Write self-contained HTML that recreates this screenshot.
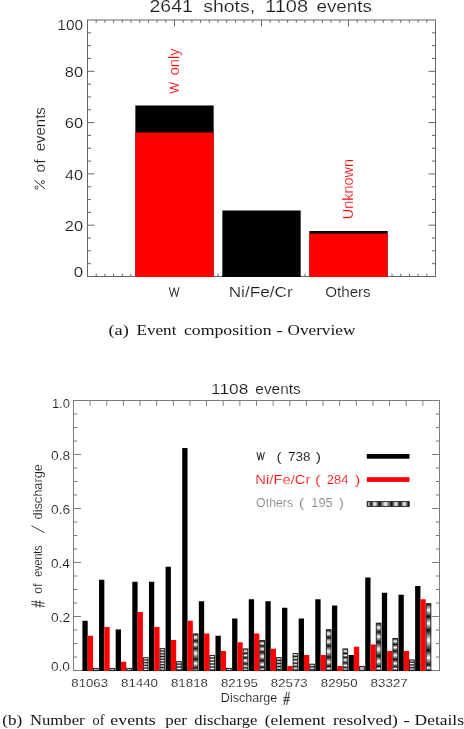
<!DOCTYPE html>
<html><head><meta charset="utf-8"><title>Event composition</title>
<style>
html,body{margin:0;padding:0;background:#fff;}
body{width:464px;height:729px;overflow:hidden;font-family:"Liberation Sans",sans-serif;}
svg{display:block;will-change:transform;}
</style></head><body>
<svg width="464" height="729" viewBox="0 0 464 729">
<defs>
<linearGradient id="g3" x1="0" y1="657.25" x2="0" y2="659.95" gradientUnits="userSpaceOnUse" spreadMethod="repeat"><stop offset="0" stop-color="#161616"/><stop offset="0.5" stop-color="#f6f6f6"/><stop offset="1" stop-color="#161616"/></linearGradient>
<linearGradient id="g4" x1="0" y1="648.25" x2="0" y2="651.00" gradientUnits="userSpaceOnUse" spreadMethod="repeat"><stop offset="0" stop-color="#161616"/><stop offset="0.5" stop-color="#f6f6f6"/><stop offset="1" stop-color="#161616"/></linearGradient>
<linearGradient id="g5" x1="0" y1="661.25" x2="0" y2="664.15" gradientUnits="userSpaceOnUse" spreadMethod="repeat"><stop offset="0" stop-color="#161616"/><stop offset="0.5" stop-color="#f6f6f6"/><stop offset="1" stop-color="#161616"/></linearGradient>
<linearGradient id="g6" x1="0" y1="633.50" x2="0" y2="671.00" gradientUnits="userSpaceOnUse"><stop offset="0.0027" stop-color="#0e0e0e"/><stop offset="0.1040" stop-color="#fbfbfb"/><stop offset="0.1947" stop-color="#0e0e0e"/><stop offset="0.2960" stop-color="#fbfbfb"/><stop offset="0.3947" stop-color="#0e0e0e"/><stop offset="0.5227" stop-color="#fbfbfb"/><stop offset="0.6880" stop-color="#0e0e0e"/><stop offset="0.7973" stop-color="#fbfbfb"/><stop offset="0.9253" stop-color="#0e0e0e"/><stop offset="0.9893" stop-color="#fbfbfb"/></linearGradient>
<linearGradient id="g7" x1="0" y1="655.00" x2="0" y2="658.00" gradientUnits="userSpaceOnUse" spreadMethod="repeat"><stop offset="0" stop-color="#161616"/><stop offset="0.5" stop-color="#f6f6f6"/><stop offset="1" stop-color="#161616"/></linearGradient>
<linearGradient id="g9" x1="0" y1="648.50" x2="0" y2="671.00" gradientUnits="userSpaceOnUse"><stop offset="0.0000" stop-color="#0e0e0e"/><stop offset="0.1156" stop-color="#fbfbfb"/><stop offset="0.2133" stop-color="#0e0e0e"/><stop offset="0.3067" stop-color="#fbfbfb"/><stop offset="0.4044" stop-color="#0e0e0e"/><stop offset="0.5378" stop-color="#fbfbfb"/><stop offset="0.6889" stop-color="#0e0e0e"/><stop offset="0.7867" stop-color="#fbfbfb"/><stop offset="0.8667" stop-color="#0e0e0e"/><stop offset="0.9200" stop-color="#fbfbfb"/><stop offset="0.9689" stop-color="#0e0e0e"/></linearGradient>
<linearGradient id="g10" x1="0" y1="640.00" x2="0" y2="671.00" gradientUnits="userSpaceOnUse"><stop offset="0.0258" stop-color="#0e0e0e"/><stop offset="0.1097" stop-color="#fbfbfb"/><stop offset="0.1935" stop-color="#0e0e0e"/><stop offset="0.2903" stop-color="#fbfbfb"/><stop offset="0.3871" stop-color="#0e0e0e"/><stop offset="0.5258" stop-color="#fbfbfb"/><stop offset="0.6645" stop-color="#0e0e0e"/><stop offset="0.7903" stop-color="#fbfbfb"/><stop offset="0.8871" stop-color="#0e0e0e"/><stop offset="0.9419" stop-color="#fbfbfb"/><stop offset="0.9839" stop-color="#0e0e0e"/></linearGradient>
<linearGradient id="g11" x1="0" y1="657.25" x2="0" y2="660.35" gradientUnits="userSpaceOnUse" spreadMethod="repeat"><stop offset="0" stop-color="#161616"/><stop offset="0.5" stop-color="#f6f6f6"/><stop offset="1" stop-color="#161616"/></linearGradient>
<linearGradient id="g12" x1="0" y1="653.00" x2="0" y2="656.40" gradientUnits="userSpaceOnUse" spreadMethod="repeat"><stop offset="0" stop-color="#161616"/><stop offset="0.5" stop-color="#f6f6f6"/><stop offset="1" stop-color="#161616"/></linearGradient>
<linearGradient id="g13" x1="0" y1="663.75" x2="0" y2="666.75" gradientUnits="userSpaceOnUse" spreadMethod="repeat"><stop offset="0" stop-color="#161616"/><stop offset="0.5" stop-color="#f6f6f6"/><stop offset="1" stop-color="#161616"/></linearGradient>
<linearGradient id="g14" x1="0" y1="629.25" x2="0" y2="671.00" gradientUnits="userSpaceOnUse"><stop offset="0.0132" stop-color="#0e0e0e"/><stop offset="0.1042" stop-color="#fbfbfb"/><stop offset="0.1976" stop-color="#0e0e0e"/><stop offset="0.2982" stop-color="#fbfbfb"/><stop offset="0.3940" stop-color="#0e0e0e"/><stop offset="0.5281" stop-color="#fbfbfb"/><stop offset="0.6719" stop-color="#0e0e0e"/><stop offset="0.7868" stop-color="#fbfbfb"/><stop offset="0.8898" stop-color="#0e0e0e"/><stop offset="0.9425" stop-color="#fbfbfb"/><stop offset="0.9832" stop-color="#0e0e0e"/></linearGradient>
<linearGradient id="g15" x1="0" y1="648.50" x2="0" y2="671.00" gradientUnits="userSpaceOnUse"><stop offset="0.0089" stop-color="#0e0e0e"/><stop offset="0.1156" stop-color="#fbfbfb"/><stop offset="0.2222" stop-color="#0e0e0e"/><stop offset="0.3067" stop-color="#fbfbfb"/><stop offset="0.3911" stop-color="#0e0e0e"/><stop offset="0.5067" stop-color="#fbfbfb"/><stop offset="0.6400" stop-color="#0e0e0e"/><stop offset="0.7556" stop-color="#fbfbfb"/><stop offset="0.8533" stop-color="#0e0e0e"/><stop offset="0.9111" stop-color="#fbfbfb"/><stop offset="0.9644" stop-color="#0e0e0e"/></linearGradient>
<linearGradient id="g17" x1="0" y1="622.75" x2="0" y2="671.00" gradientUnits="userSpaceOnUse"><stop offset="0.0114" stop-color="#0e0e0e"/><stop offset="0.1005" stop-color="#fbfbfb"/><stop offset="0.1917" stop-color="#0e0e0e"/><stop offset="0.2891" stop-color="#fbfbfb"/><stop offset="0.3969" stop-color="#0e0e0e"/><stop offset="0.5482" stop-color="#fbfbfb"/><stop offset="0.6912" stop-color="#0e0e0e"/><stop offset="0.7990" stop-color="#fbfbfb"/><stop offset="0.9047" stop-color="#0e0e0e"/><stop offset="0.9503" stop-color="#fbfbfb"/><stop offset="0.9876" stop-color="#0e0e0e"/></linearGradient>
<linearGradient id="g18" x1="0" y1="638.00" x2="0" y2="671.00" gradientUnits="userSpaceOnUse"><stop offset="0.0121" stop-color="#0e0e0e"/><stop offset="0.1030" stop-color="#fbfbfb"/><stop offset="0.1939" stop-color="#0e0e0e"/><stop offset="0.2879" stop-color="#fbfbfb"/><stop offset="0.3909" stop-color="#0e0e0e"/><stop offset="0.5212" stop-color="#fbfbfb"/><stop offset="0.6515" stop-color="#0e0e0e"/><stop offset="0.7697" stop-color="#fbfbfb"/><stop offset="0.8758" stop-color="#0e0e0e"/><stop offset="0.9273" stop-color="#fbfbfb"/><stop offset="0.9818" stop-color="#0e0e0e"/></linearGradient>
<linearGradient id="g19" x1="0" y1="659.50" x2="0" y2="662.20" gradientUnits="userSpaceOnUse" spreadMethod="repeat"><stop offset="0" stop-color="#161616"/><stop offset="0.5" stop-color="#f6f6f6"/><stop offset="1" stop-color="#161616"/></linearGradient>
<linearGradient id="g20" x1="0" y1="603.25" x2="0" y2="671.00" gradientUnits="userSpaceOnUse"><stop offset="0.0052" stop-color="#0e0e0e"/><stop offset="0.0996" stop-color="#fbfbfb"/><stop offset="0.1956" stop-color="#0e0e0e"/><stop offset="0.2959" stop-color="#fbfbfb"/><stop offset="0.3978" stop-color="#0e0e0e"/><stop offset="0.5469" stop-color="#fbfbfb"/><stop offset="0.6974" stop-color="#0e0e0e"/><stop offset="0.8022" stop-color="#fbfbfb"/><stop offset="0.9085" stop-color="#0e0e0e"/><stop offset="0.9557" stop-color="#fbfbfb"/><stop offset="0.9911" stop-color="#0e0e0e"/></linearGradient>
<linearGradient id="lg" x1="366.8" y1="0" x2="409.5" y2="0" gradientUnits="userSpaceOnUse"><stop offset="0.0023" stop-color="#0e0e0e"/><stop offset="0.0492" stop-color="#cfcfcf"/><stop offset="0.0984" stop-color="#0e0e0e"/><stop offset="0.1827" stop-color="#fafafa"/><stop offset="0.2951" stop-color="#0e0e0e"/><stop offset="0.4403" stop-color="#fafafa"/><stop offset="0.5831" stop-color="#0e0e0e"/><stop offset="0.6838" stop-color="#fafafa"/><stop offset="0.7775" stop-color="#0e0e0e"/><stop offset="0.8806" stop-color="#fafafa"/><stop offset="0.9789" stop-color="#0e0e0e"/></linearGradient>
</defs>
<rect x="0" y="0" width="464" height="729" fill="#fff"/>
<rect x="135.35" y="105.50" width="78.30" height="171.50" fill="#000" />
<rect x="135.35" y="132.50" width="78.30" height="144.50" fill="#f00" />
<rect x="222.35" y="210.50" width="78.30" height="66.50" fill="#000" />
<rect x="309.35" y="231.00" width="78.30" height="46.00" fill="#000" />
<rect x="309.35" y="233.60" width="78.30" height="43.40" fill="#f00" />
<rect x="87.50" y="20.00" width="348.00" height="256.50" fill="none" stroke="#666666" stroke-width="1"/>
<rect x="135.35" y="275.50" width="78.30" height="1.50" fill="#f00" />
<rect x="222.35" y="275.50" width="78.30" height="1.50" fill="#000" />
<rect x="309.35" y="275.50" width="78.30" height="1.50" fill="#f00" />
<line x1="96.20" y1="20.00" x2="96.20" y2="22.80" stroke="#666666" stroke-width="1.0"/>
<line x1="96.20" y1="276.50" x2="96.20" y2="273.70" stroke="#666666" stroke-width="1.0"/>
<line x1="104.90" y1="20.00" x2="104.90" y2="22.80" stroke="#666666" stroke-width="1.0"/>
<line x1="104.90" y1="276.50" x2="104.90" y2="273.70" stroke="#666666" stroke-width="1.0"/>
<line x1="113.60" y1="20.00" x2="113.60" y2="22.80" stroke="#666666" stroke-width="1.0"/>
<line x1="113.60" y1="276.50" x2="113.60" y2="273.70" stroke="#666666" stroke-width="1.0"/>
<line x1="122.30" y1="20.00" x2="122.30" y2="22.80" stroke="#666666" stroke-width="1.0"/>
<line x1="122.30" y1="276.50" x2="122.30" y2="273.70" stroke="#666666" stroke-width="1.0"/>
<line x1="131.00" y1="20.00" x2="131.00" y2="22.80" stroke="#666666" stroke-width="1.0"/>
<line x1="131.00" y1="276.50" x2="131.00" y2="273.70" stroke="#666666" stroke-width="1.0"/>
<line x1="139.70" y1="20.00" x2="139.70" y2="22.80" stroke="#666666" stroke-width="1.0"/>
<line x1="148.40" y1="20.00" x2="148.40" y2="22.80" stroke="#666666" stroke-width="1.0"/>
<line x1="157.10" y1="20.00" x2="157.10" y2="22.80" stroke="#666666" stroke-width="1.0"/>
<line x1="165.80" y1="20.00" x2="165.80" y2="22.80" stroke="#666666" stroke-width="1.0"/>
<line x1="174.50" y1="20.00" x2="174.50" y2="26.50" stroke="#666666" stroke-width="1.0"/>
<line x1="183.20" y1="20.00" x2="183.20" y2="22.80" stroke="#666666" stroke-width="1.0"/>
<line x1="191.90" y1="20.00" x2="191.90" y2="22.80" stroke="#666666" stroke-width="1.0"/>
<line x1="200.60" y1="20.00" x2="200.60" y2="22.80" stroke="#666666" stroke-width="1.0"/>
<line x1="209.30" y1="20.00" x2="209.30" y2="22.80" stroke="#666666" stroke-width="1.0"/>
<line x1="218.00" y1="20.00" x2="218.00" y2="22.80" stroke="#666666" stroke-width="1.0"/>
<line x1="218.00" y1="276.50" x2="218.00" y2="273.70" stroke="#666666" stroke-width="1.0"/>
<line x1="226.70" y1="20.00" x2="226.70" y2="22.80" stroke="#666666" stroke-width="1.0"/>
<line x1="235.40" y1="20.00" x2="235.40" y2="22.80" stroke="#666666" stroke-width="1.0"/>
<line x1="244.10" y1="20.00" x2="244.10" y2="22.80" stroke="#666666" stroke-width="1.0"/>
<line x1="252.80" y1="20.00" x2="252.80" y2="22.80" stroke="#666666" stroke-width="1.0"/>
<line x1="261.50" y1="20.00" x2="261.50" y2="26.50" stroke="#666666" stroke-width="1.0"/>
<line x1="270.20" y1="20.00" x2="270.20" y2="22.80" stroke="#666666" stroke-width="1.0"/>
<line x1="278.90" y1="20.00" x2="278.90" y2="22.80" stroke="#666666" stroke-width="1.0"/>
<line x1="287.60" y1="20.00" x2="287.60" y2="22.80" stroke="#666666" stroke-width="1.0"/>
<line x1="296.30" y1="20.00" x2="296.30" y2="22.80" stroke="#666666" stroke-width="1.0"/>
<line x1="305.00" y1="20.00" x2="305.00" y2="22.80" stroke="#666666" stroke-width="1.0"/>
<line x1="305.00" y1="276.50" x2="305.00" y2="273.70" stroke="#666666" stroke-width="1.0"/>
<line x1="313.70" y1="20.00" x2="313.70" y2="22.80" stroke="#666666" stroke-width="1.0"/>
<line x1="322.40" y1="20.00" x2="322.40" y2="22.80" stroke="#666666" stroke-width="1.0"/>
<line x1="331.10" y1="20.00" x2="331.10" y2="22.80" stroke="#666666" stroke-width="1.0"/>
<line x1="339.80" y1="20.00" x2="339.80" y2="22.80" stroke="#666666" stroke-width="1.0"/>
<line x1="348.50" y1="20.00" x2="348.50" y2="26.50" stroke="#666666" stroke-width="1.0"/>
<line x1="357.20" y1="20.00" x2="357.20" y2="22.80" stroke="#666666" stroke-width="1.0"/>
<line x1="365.90" y1="20.00" x2="365.90" y2="22.80" stroke="#666666" stroke-width="1.0"/>
<line x1="374.60" y1="20.00" x2="374.60" y2="22.80" stroke="#666666" stroke-width="1.0"/>
<line x1="383.30" y1="20.00" x2="383.30" y2="22.80" stroke="#666666" stroke-width="1.0"/>
<line x1="392.00" y1="20.00" x2="392.00" y2="22.80" stroke="#666666" stroke-width="1.0"/>
<line x1="392.00" y1="276.50" x2="392.00" y2="273.70" stroke="#666666" stroke-width="1.0"/>
<line x1="400.70" y1="20.00" x2="400.70" y2="22.80" stroke="#666666" stroke-width="1.0"/>
<line x1="400.70" y1="276.50" x2="400.70" y2="273.70" stroke="#666666" stroke-width="1.0"/>
<line x1="409.40" y1="20.00" x2="409.40" y2="22.80" stroke="#666666" stroke-width="1.0"/>
<line x1="409.40" y1="276.50" x2="409.40" y2="273.70" stroke="#666666" stroke-width="1.0"/>
<line x1="418.10" y1="20.00" x2="418.10" y2="22.80" stroke="#666666" stroke-width="1.0"/>
<line x1="418.10" y1="276.50" x2="418.10" y2="273.70" stroke="#666666" stroke-width="1.0"/>
<line x1="426.80" y1="20.00" x2="426.80" y2="22.80" stroke="#666666" stroke-width="1.0"/>
<line x1="426.80" y1="276.50" x2="426.80" y2="273.70" stroke="#666666" stroke-width="1.0"/>
<line x1="87.50" y1="263.68" x2="91.00" y2="263.68" stroke="#666666" stroke-width="1.0"/>
<line x1="435.50" y1="263.68" x2="432.00" y2="263.68" stroke="#666666" stroke-width="1.0"/>
<line x1="87.50" y1="250.85" x2="91.00" y2="250.85" stroke="#666666" stroke-width="1.0"/>
<line x1="435.50" y1="250.85" x2="432.00" y2="250.85" stroke="#666666" stroke-width="1.0"/>
<line x1="87.50" y1="238.03" x2="91.00" y2="238.03" stroke="#666666" stroke-width="1.0"/>
<line x1="435.50" y1="238.03" x2="432.00" y2="238.03" stroke="#666666" stroke-width="1.0"/>
<line x1="87.50" y1="225.20" x2="94.50" y2="225.20" stroke="#666666" stroke-width="1.0"/>
<line x1="435.50" y1="225.20" x2="428.50" y2="225.20" stroke="#666666" stroke-width="1.0"/>
<line x1="87.50" y1="212.38" x2="91.00" y2="212.38" stroke="#666666" stroke-width="1.0"/>
<line x1="435.50" y1="212.38" x2="432.00" y2="212.38" stroke="#666666" stroke-width="1.0"/>
<line x1="87.50" y1="199.55" x2="91.00" y2="199.55" stroke="#666666" stroke-width="1.0"/>
<line x1="435.50" y1="199.55" x2="432.00" y2="199.55" stroke="#666666" stroke-width="1.0"/>
<line x1="87.50" y1="186.72" x2="91.00" y2="186.72" stroke="#666666" stroke-width="1.0"/>
<line x1="435.50" y1="186.72" x2="432.00" y2="186.72" stroke="#666666" stroke-width="1.0"/>
<line x1="87.50" y1="173.90" x2="94.50" y2="173.90" stroke="#666666" stroke-width="1.0"/>
<line x1="435.50" y1="173.90" x2="428.50" y2="173.90" stroke="#666666" stroke-width="1.0"/>
<line x1="87.50" y1="161.07" x2="91.00" y2="161.07" stroke="#666666" stroke-width="1.0"/>
<line x1="435.50" y1="161.07" x2="432.00" y2="161.07" stroke="#666666" stroke-width="1.0"/>
<line x1="87.50" y1="148.25" x2="91.00" y2="148.25" stroke="#666666" stroke-width="1.0"/>
<line x1="435.50" y1="148.25" x2="432.00" y2="148.25" stroke="#666666" stroke-width="1.0"/>
<line x1="87.50" y1="135.43" x2="91.00" y2="135.43" stroke="#666666" stroke-width="1.0"/>
<line x1="435.50" y1="135.43" x2="432.00" y2="135.43" stroke="#666666" stroke-width="1.0"/>
<line x1="87.50" y1="122.60" x2="94.50" y2="122.60" stroke="#666666" stroke-width="1.0"/>
<line x1="435.50" y1="122.60" x2="428.50" y2="122.60" stroke="#666666" stroke-width="1.0"/>
<line x1="87.50" y1="109.78" x2="91.00" y2="109.78" stroke="#666666" stroke-width="1.0"/>
<line x1="435.50" y1="109.78" x2="432.00" y2="109.78" stroke="#666666" stroke-width="1.0"/>
<line x1="87.50" y1="96.95" x2="91.00" y2="96.95" stroke="#666666" stroke-width="1.0"/>
<line x1="435.50" y1="96.95" x2="432.00" y2="96.95" stroke="#666666" stroke-width="1.0"/>
<line x1="87.50" y1="84.12" x2="91.00" y2="84.12" stroke="#666666" stroke-width="1.0"/>
<line x1="435.50" y1="84.12" x2="432.00" y2="84.12" stroke="#666666" stroke-width="1.0"/>
<line x1="87.50" y1="71.30" x2="94.50" y2="71.30" stroke="#666666" stroke-width="1.0"/>
<line x1="435.50" y1="71.30" x2="428.50" y2="71.30" stroke="#666666" stroke-width="1.0"/>
<line x1="87.50" y1="58.47" x2="91.00" y2="58.47" stroke="#666666" stroke-width="1.0"/>
<line x1="435.50" y1="58.47" x2="432.00" y2="58.47" stroke="#666666" stroke-width="1.0"/>
<line x1="87.50" y1="45.65" x2="91.00" y2="45.65" stroke="#666666" stroke-width="1.0"/>
<line x1="435.50" y1="45.65" x2="432.00" y2="45.65" stroke="#666666" stroke-width="1.0"/>
<line x1="87.50" y1="32.82" x2="91.00" y2="32.82" stroke="#666666" stroke-width="1.0"/>
<line x1="435.50" y1="32.82" x2="432.00" y2="32.82" stroke="#666666" stroke-width="1.0"/>
<rect x="73.50" y="400.50" width="366.00" height="270.00" fill="none" stroke="#7c7c7c" stroke-width="1"/>
<rect x="82.40" y="620.75" width="5.30" height="50.25" fill="#000" />
<rect x="87.70" y="635.75" width="5.30" height="35.25" fill="#f00" />
<rect x="93.45" y="668.35" width="4.70" height="2.30" fill="#b8b8b8" stroke="#111" stroke-width="0.9"/>
<rect x="99.04" y="579.75" width="5.30" height="91.25" fill="#000" />
<rect x="104.34" y="626.95" width="5.30" height="44.05" fill="#f00" />
<rect x="110.09" y="668.35" width="4.70" height="2.30" fill="#b8b8b8" stroke="#111" stroke-width="0.9"/>
<rect x="115.67" y="629.45" width="5.30" height="41.55" fill="#000" />
<rect x="120.97" y="661.75" width="5.30" height="9.25" fill="#f00" />
<rect x="126.72" y="668.35" width="4.70" height="2.30" fill="#b8b8b8" stroke="#111" stroke-width="0.9"/>
<rect x="132.31" y="581.75" width="5.30" height="89.25" fill="#000" />
<rect x="137.61" y="611.95" width="5.30" height="59.05" fill="#f00" />
<rect x="143.36" y="657.65" width="4.70" height="13.00" fill="url(#g3)" stroke="#1c1c1c" stroke-width="0.9"/>
<rect x="148.95" y="581.75" width="5.30" height="89.25" fill="#000" />
<rect x="154.25" y="626.95" width="5.30" height="44.05" fill="#f00" />
<rect x="160.00" y="648.65" width="4.70" height="22.00" fill="url(#g4)" stroke="#1c1c1c" stroke-width="0.9"/>
<rect x="165.58" y="566.75" width="5.30" height="104.25" fill="#000" />
<rect x="170.88" y="639.95" width="5.30" height="31.05" fill="#f00" />
<rect x="176.63" y="661.65" width="4.70" height="9.00" fill="url(#g5)" stroke="#1c1c1c" stroke-width="0.9"/>
<rect x="182.22" y="448.05" width="5.30" height="222.95" fill="#000" />
<rect x="187.52" y="620.75" width="5.30" height="50.25" fill="#f00" />
<rect x="193.27" y="633.90" width="4.70" height="36.75" fill="url(#g6)" stroke="#1c1c1c" stroke-width="0.9"/>
<rect x="198.85" y="601.25" width="5.30" height="69.75" fill="#000" />
<rect x="204.15" y="633.50" width="5.30" height="37.50" fill="#f00" />
<rect x="209.90" y="655.40" width="4.70" height="15.25" fill="url(#g7)" stroke="#1c1c1c" stroke-width="0.9"/>
<rect x="215.49" y="635.75" width="5.30" height="35.25" fill="#000" />
<rect x="220.79" y="651.00" width="5.30" height="20.00" fill="#f00" />
<rect x="226.54" y="668.35" width="4.70" height="2.30" fill="#b8b8b8" stroke="#111" stroke-width="0.9"/>
<rect x="232.13" y="618.50" width="5.30" height="52.50" fill="#000" />
<rect x="237.43" y="642.25" width="5.30" height="28.75" fill="#f00" />
<rect x="243.18" y="648.90" width="4.70" height="21.75" fill="url(#g9)" stroke="#1c1c1c" stroke-width="0.9"/>
<rect x="248.76" y="599.25" width="5.30" height="71.75" fill="#000" />
<rect x="254.06" y="633.50" width="5.30" height="37.50" fill="#f00" />
<rect x="259.81" y="640.40" width="4.70" height="30.25" fill="url(#g10)" stroke="#1c1c1c" stroke-width="0.9"/>
<rect x="265.40" y="601.25" width="5.30" height="69.75" fill="#000" />
<rect x="270.70" y="648.75" width="5.30" height="22.25" fill="#f00" />
<rect x="276.45" y="657.65" width="4.70" height="13.00" fill="url(#g11)" stroke="#1c1c1c" stroke-width="0.9"/>
<rect x="282.04" y="607.75" width="5.30" height="63.25" fill="#000" />
<rect x="287.34" y="666.00" width="5.30" height="5.00" fill="#f00" />
<rect x="293.09" y="653.40" width="4.70" height="17.25" fill="url(#g12)" stroke="#1c1c1c" stroke-width="0.9"/>
<rect x="298.67" y="618.50" width="5.30" height="52.50" fill="#000" />
<rect x="303.97" y="655.00" width="5.30" height="16.00" fill="#f00" />
<rect x="309.72" y="664.15" width="4.70" height="6.50" fill="url(#g13)" stroke="#1c1c1c" stroke-width="0.9"/>
<rect x="315.31" y="599.25" width="5.30" height="71.75" fill="#000" />
<rect x="320.61" y="655.00" width="5.30" height="16.00" fill="#f00" />
<rect x="326.36" y="629.65" width="4.70" height="41.00" fill="url(#g14)" stroke="#1c1c1c" stroke-width="0.9"/>
<rect x="331.95" y="605.50" width="5.30" height="65.50" fill="#000" />
<rect x="337.25" y="666.00" width="5.30" height="5.00" fill="#f00" />
<rect x="343.00" y="648.90" width="4.70" height="21.75" fill="url(#g15)" stroke="#1c1c1c" stroke-width="0.9"/>
<rect x="348.58" y="655.00" width="5.30" height="16.00" fill="#000" />
<rect x="353.88" y="646.75" width="5.30" height="24.25" fill="#f00" />
<rect x="359.63" y="666.40" width="4.70" height="4.25" fill="#b8b8b8" stroke="#111" stroke-width="0.9"/>
<rect x="365.22" y="577.50" width="5.30" height="93.50" fill="#000" />
<rect x="370.52" y="644.50" width="5.30" height="26.50" fill="#f00" />
<rect x="376.27" y="623.15" width="4.70" height="47.50" fill="url(#g17)" stroke="#1c1c1c" stroke-width="0.9"/>
<rect x="381.85" y="592.75" width="5.30" height="78.25" fill="#000" />
<rect x="387.15" y="651.00" width="5.30" height="20.00" fill="#f00" />
<rect x="392.90" y="638.40" width="4.70" height="32.25" fill="url(#g18)" stroke="#1c1c1c" stroke-width="0.9"/>
<rect x="398.49" y="594.75" width="5.30" height="76.25" fill="#000" />
<rect x="403.79" y="651.00" width="5.30" height="20.00" fill="#f00" />
<rect x="409.54" y="659.90" width="4.70" height="10.75" fill="url(#g19)" stroke="#1c1c1c" stroke-width="0.9"/>
<rect x="415.13" y="586.00" width="5.30" height="85.00" fill="#000" />
<rect x="420.43" y="599.25" width="5.30" height="71.75" fill="#f00" />
<rect x="426.18" y="603.65" width="4.70" height="67.00" fill="url(#g20)" stroke="#1c1c1c" stroke-width="0.9"/>
<line x1="90.14" y1="400.50" x2="90.14" y2="405.90" stroke="#7c7c7c" stroke-width="1.0"/>
<line x1="106.77" y1="400.50" x2="106.77" y2="405.90" stroke="#7c7c7c" stroke-width="1.0"/>
<line x1="123.41" y1="400.50" x2="123.41" y2="405.90" stroke="#7c7c7c" stroke-width="1.0"/>
<line x1="140.05" y1="400.50" x2="140.05" y2="405.90" stroke="#7c7c7c" stroke-width="1.0"/>
<line x1="156.68" y1="400.50" x2="156.68" y2="405.90" stroke="#7c7c7c" stroke-width="1.0"/>
<line x1="173.32" y1="400.50" x2="173.32" y2="405.90" stroke="#7c7c7c" stroke-width="1.0"/>
<line x1="189.95" y1="400.50" x2="189.95" y2="405.90" stroke="#7c7c7c" stroke-width="1.0"/>
<line x1="206.59" y1="400.50" x2="206.59" y2="405.90" stroke="#7c7c7c" stroke-width="1.0"/>
<line x1="223.23" y1="400.50" x2="223.23" y2="405.90" stroke="#7c7c7c" stroke-width="1.0"/>
<line x1="239.86" y1="400.50" x2="239.86" y2="405.90" stroke="#7c7c7c" stroke-width="1.0"/>
<line x1="256.50" y1="400.50" x2="256.50" y2="405.90" stroke="#7c7c7c" stroke-width="1.0"/>
<line x1="273.14" y1="400.50" x2="273.14" y2="405.90" stroke="#7c7c7c" stroke-width="1.0"/>
<line x1="289.77" y1="400.50" x2="289.77" y2="405.90" stroke="#7c7c7c" stroke-width="1.0"/>
<line x1="306.41" y1="400.50" x2="306.41" y2="405.90" stroke="#7c7c7c" stroke-width="1.0"/>
<line x1="323.05" y1="400.50" x2="323.05" y2="405.90" stroke="#7c7c7c" stroke-width="1.0"/>
<line x1="339.68" y1="400.50" x2="339.68" y2="405.90" stroke="#7c7c7c" stroke-width="1.0"/>
<line x1="356.32" y1="400.50" x2="356.32" y2="405.90" stroke="#7c7c7c" stroke-width="1.0"/>
<line x1="372.95" y1="400.50" x2="372.95" y2="405.90" stroke="#7c7c7c" stroke-width="1.0"/>
<line x1="389.59" y1="400.50" x2="389.59" y2="405.90" stroke="#7c7c7c" stroke-width="1.0"/>
<line x1="406.23" y1="400.50" x2="406.23" y2="405.90" stroke="#7c7c7c" stroke-width="1.0"/>
<line x1="422.86" y1="400.50" x2="422.86" y2="405.90" stroke="#7c7c7c" stroke-width="1.0"/>
<line x1="73.50" y1="657.00" x2="77.20" y2="657.00" stroke="#7c7c7c" stroke-width="1.0"/>
<line x1="439.50" y1="657.00" x2="435.80" y2="657.00" stroke="#7c7c7c" stroke-width="1.0"/>
<line x1="73.50" y1="643.50" x2="77.20" y2="643.50" stroke="#7c7c7c" stroke-width="1.0"/>
<line x1="439.50" y1="643.50" x2="435.80" y2="643.50" stroke="#7c7c7c" stroke-width="1.0"/>
<line x1="73.50" y1="630.00" x2="77.20" y2="630.00" stroke="#7c7c7c" stroke-width="1.0"/>
<line x1="439.50" y1="630.00" x2="435.80" y2="630.00" stroke="#7c7c7c" stroke-width="1.0"/>
<line x1="73.50" y1="616.50" x2="81.00" y2="616.50" stroke="#7c7c7c" stroke-width="1.0"/>
<line x1="439.50" y1="616.50" x2="432.00" y2="616.50" stroke="#7c7c7c" stroke-width="1.0"/>
<line x1="73.50" y1="603.00" x2="77.20" y2="603.00" stroke="#7c7c7c" stroke-width="1.0"/>
<line x1="439.50" y1="603.00" x2="435.80" y2="603.00" stroke="#7c7c7c" stroke-width="1.0"/>
<line x1="73.50" y1="589.50" x2="77.20" y2="589.50" stroke="#7c7c7c" stroke-width="1.0"/>
<line x1="439.50" y1="589.50" x2="435.80" y2="589.50" stroke="#7c7c7c" stroke-width="1.0"/>
<line x1="73.50" y1="576.00" x2="77.20" y2="576.00" stroke="#7c7c7c" stroke-width="1.0"/>
<line x1="439.50" y1="576.00" x2="435.80" y2="576.00" stroke="#7c7c7c" stroke-width="1.0"/>
<line x1="73.50" y1="562.50" x2="81.00" y2="562.50" stroke="#7c7c7c" stroke-width="1.0"/>
<line x1="439.50" y1="562.50" x2="432.00" y2="562.50" stroke="#7c7c7c" stroke-width="1.0"/>
<line x1="73.50" y1="549.00" x2="77.20" y2="549.00" stroke="#7c7c7c" stroke-width="1.0"/>
<line x1="439.50" y1="549.00" x2="435.80" y2="549.00" stroke="#7c7c7c" stroke-width="1.0"/>
<line x1="73.50" y1="535.50" x2="77.20" y2="535.50" stroke="#7c7c7c" stroke-width="1.0"/>
<line x1="439.50" y1="535.50" x2="435.80" y2="535.50" stroke="#7c7c7c" stroke-width="1.0"/>
<line x1="73.50" y1="522.00" x2="77.20" y2="522.00" stroke="#7c7c7c" stroke-width="1.0"/>
<line x1="439.50" y1="522.00" x2="435.80" y2="522.00" stroke="#7c7c7c" stroke-width="1.0"/>
<line x1="73.50" y1="508.50" x2="81.00" y2="508.50" stroke="#7c7c7c" stroke-width="1.0"/>
<line x1="439.50" y1="508.50" x2="432.00" y2="508.50" stroke="#7c7c7c" stroke-width="1.0"/>
<line x1="73.50" y1="495.00" x2="77.20" y2="495.00" stroke="#7c7c7c" stroke-width="1.0"/>
<line x1="439.50" y1="495.00" x2="435.80" y2="495.00" stroke="#7c7c7c" stroke-width="1.0"/>
<line x1="73.50" y1="481.50" x2="77.20" y2="481.50" stroke="#7c7c7c" stroke-width="1.0"/>
<line x1="439.50" y1="481.50" x2="435.80" y2="481.50" stroke="#7c7c7c" stroke-width="1.0"/>
<line x1="73.50" y1="468.00" x2="77.20" y2="468.00" stroke="#7c7c7c" stroke-width="1.0"/>
<line x1="439.50" y1="468.00" x2="435.80" y2="468.00" stroke="#7c7c7c" stroke-width="1.0"/>
<line x1="73.50" y1="454.50" x2="81.00" y2="454.50" stroke="#7c7c7c" stroke-width="1.0"/>
<line x1="439.50" y1="454.50" x2="432.00" y2="454.50" stroke="#7c7c7c" stroke-width="1.0"/>
<line x1="73.50" y1="441.00" x2="77.20" y2="441.00" stroke="#7c7c7c" stroke-width="1.0"/>
<line x1="439.50" y1="441.00" x2="435.80" y2="441.00" stroke="#7c7c7c" stroke-width="1.0"/>
<line x1="73.50" y1="427.50" x2="77.20" y2="427.50" stroke="#7c7c7c" stroke-width="1.0"/>
<line x1="439.50" y1="427.50" x2="435.80" y2="427.50" stroke="#7c7c7c" stroke-width="1.0"/>
<line x1="73.50" y1="414.00" x2="77.20" y2="414.00" stroke="#7c7c7c" stroke-width="1.0"/>
<line x1="439.50" y1="414.00" x2="435.80" y2="414.00" stroke="#7c7c7c" stroke-width="1.0"/>
<rect x="366.80" y="454.00" width="42.70" height="4.70" fill="#000" />
<rect x="366.80" y="477.20" width="42.70" height="4.70" fill="#f00" />
<rect x="367.20" y="501.60" width="42.00" height="4.80" fill="url(#lg)" stroke="#1c1c1c" stroke-width="0.9"/>
<text x="149.50" y="12.30" font-family='"Liberation Sans", sans-serif' font-size="16.8" fill="#1c1c1c" textLength="43.30" lengthAdjust="spacingAndGlyphs" stroke="#fff" stroke-width="0.17" paint-order="fill stroke">2641</text>
<text x="203.20" y="12.40" font-family='"Liberation Sans", sans-serif' font-size="16.8" fill="#1c1c1c" textLength="51.90" lengthAdjust="spacingAndGlyphs" stroke="#fff" stroke-width="0.17" paint-order="fill stroke">shots,</text>
<text x="265.05" y="12.30" font-family='"Liberation Sans", sans-serif' font-size="16.8" fill="#1c1c1c" textLength="43.10" lengthAdjust="spacingAndGlyphs" stroke="#fff" stroke-width="0.17" paint-order="fill stroke">1108</text>
<text x="316.40" y="12.30" font-family='"Liberation Sans", sans-serif' font-size="16.8" fill="#1c1c1c" textLength="55.60" lengthAdjust="spacingAndGlyphs" stroke="#fff" stroke-width="0.17" paint-order="fill stroke">events</text>
<text x="57.35" y="29.65" font-family='"Liberation Sans", sans-serif' font-size="14.3" fill="#1c1c1c" textLength="25.65" lengthAdjust="spacingAndGlyphs" stroke="#fff" stroke-width="0.14" paint-order="fill stroke">100</text>
<text x="64.80" y="76.85" font-family='"Liberation Sans", sans-serif' font-size="14.3" fill="#1c1c1c" textLength="18.25" lengthAdjust="spacingAndGlyphs" stroke="#fff" stroke-width="0.14" paint-order="fill stroke">80</text>
<text x="64.80" y="128.20" font-family='"Liberation Sans", sans-serif' font-size="14.3" fill="#1c1c1c" textLength="18.25" lengthAdjust="spacingAndGlyphs" stroke="#fff" stroke-width="0.14" paint-order="fill stroke">60</text>
<text x="65.05" y="179.50" font-family='"Liberation Sans", sans-serif' font-size="14.3" fill="#1c1c1c" textLength="18.00" lengthAdjust="spacingAndGlyphs" stroke="#fff" stroke-width="0.14" paint-order="fill stroke">40</text>
<text x="64.80" y="230.85" font-family='"Liberation Sans", sans-serif' font-size="14.3" fill="#1c1c1c" textLength="18.25" lengthAdjust="spacingAndGlyphs" stroke="#fff" stroke-width="0.14" paint-order="fill stroke">20</text>
<text x="73.80" y="277.00" font-family='"Liberation Sans", sans-serif' font-size="14.3" fill="#1c1c1c" textLength="9.40" lengthAdjust="spacingAndGlyphs" stroke="#fff" stroke-width="0.14" paint-order="fill stroke">0</text>
<text x="228.70" y="297.30" font-family='"Liberation Sans", sans-serif' font-size="14.3" fill="#1c1c1c" textLength="64.00" lengthAdjust="spacingAndGlyphs" stroke="#fff" stroke-width="0.14" paint-order="fill stroke">Ni/Fe/Cr</text>
<text x="325.25" y="297.35" font-family='"Liberation Sans", sans-serif' font-size="14.3" fill="#1c1c1c" textLength="45.40" lengthAdjust="spacingAndGlyphs" stroke="#fff" stroke-width="0.14" paint-order="fill stroke">Others</text>
<text transform="translate(45.30,172.50) rotate(-90)" x="0" y="0" font-family='"Liberation Sans", sans-serif' font-size="14.3" fill="#1c1c1c" textLength="13.10" lengthAdjust="spacingAndGlyphs" stroke="#fff" stroke-width="0.14" paint-order="fill stroke">of</text>
<text transform="translate(45.30,151.35) rotate(-90)" x="0" y="0" font-family='"Liberation Sans", sans-serif' font-size="14.3" fill="#1c1c1c" textLength="44.15" lengthAdjust="spacingAndGlyphs" stroke="#fff" stroke-width="0.14" paint-order="fill stroke">events</text>
<text transform="translate(179.10,75.35) rotate(-90)" x="0" y="0" font-family='"Liberation Sans", sans-serif' font-size="14.3" fill="#f00" textLength="27.00" lengthAdjust="spacingAndGlyphs" stroke="#fff" stroke-width="0.21" paint-order="fill stroke">only</text>
<text transform="translate(353.15,219.30) rotate(-90)" x="0" y="0" font-family='"Liberation Sans", sans-serif' font-size="14.3" fill="#f00" textLength="60.40" lengthAdjust="spacingAndGlyphs" stroke="#fff" stroke-width="0.21" paint-order="fill stroke">Unknown</text>
<text x="108.50" y="335.00" font-family='"Liberation Serif", serif' font-size="15.6" fill="#141414" textLength="20.35" lengthAdjust="spacingAndGlyphs" stroke="#fff" stroke-width="0.00" paint-order="fill stroke">(a)</text>
<text x="136.45" y="334.75" font-family='"Liberation Serif", serif' font-size="15.6" fill="#141414" textLength="40.00" lengthAdjust="spacingAndGlyphs" stroke="#fff" stroke-width="0.00" paint-order="fill stroke">Event</text>
<text x="184.00" y="335.00" font-family='"Liberation Serif", serif' font-size="15.6" fill="#141414" textLength="87.55" lengthAdjust="spacingAndGlyphs" stroke="#fff" stroke-width="0.00" paint-order="fill stroke">composition</text>
<text x="276.30" y="335.00" font-family='"Liberation Serif", serif' font-size="15.6" fill="#141414" textLength="6.70" lengthAdjust="spacingAndGlyphs" stroke="#fff" stroke-width="0.00" paint-order="fill stroke">-</text>
<text x="287.50" y="334.75" font-family='"Liberation Serif", serif' font-size="15.6" fill="#141414" textLength="67.80" lengthAdjust="spacingAndGlyphs" stroke="#fff" stroke-width="0.00" paint-order="fill stroke">Overview</text>
<text x="211.10" y="394.20" font-family='"Liberation Sans", sans-serif' font-size="15.0" fill="#1c1c1c" textLength="37.15" lengthAdjust="spacingAndGlyphs" stroke="#fff" stroke-width="0.15" paint-order="fill stroke">1108</text>
<text x="255.35" y="394.20" font-family='"Liberation Sans", sans-serif' font-size="15.0" fill="#1c1c1c" textLength="45.30" lengthAdjust="spacingAndGlyphs" stroke="#fff" stroke-width="0.15" paint-order="fill stroke">events</text>
<text x="51.90" y="408.30" font-family='"Liberation Sans", sans-serif' font-size="12.0" fill="#1c1c1c" textLength="18.05" lengthAdjust="spacingAndGlyphs" stroke="#fff" stroke-width="0.12" paint-order="fill stroke">1.0</text>
<text x="51.00" y="459.60" font-family='"Liberation Sans", sans-serif' font-size="12.0" fill="#1c1c1c" textLength="19.20" lengthAdjust="spacingAndGlyphs" stroke="#fff" stroke-width="0.12" paint-order="fill stroke">0.8</text>
<text x="51.00" y="513.60" font-family='"Liberation Sans", sans-serif' font-size="12.0" fill="#1c1c1c" textLength="19.20" lengthAdjust="spacingAndGlyphs" stroke="#fff" stroke-width="0.12" paint-order="fill stroke">0.6</text>
<text x="51.00" y="567.70" font-family='"Liberation Sans", sans-serif' font-size="12.0" fill="#1c1c1c" textLength="18.95" lengthAdjust="spacingAndGlyphs" stroke="#fff" stroke-width="0.12" paint-order="fill stroke">0.4</text>
<text x="51.00" y="621.70" font-family='"Liberation Sans", sans-serif' font-size="12.0" fill="#1c1c1c" textLength="19.20" lengthAdjust="spacingAndGlyphs" stroke="#fff" stroke-width="0.12" paint-order="fill stroke">0.2</text>
<text x="51.00" y="671.15" font-family='"Liberation Sans", sans-serif' font-size="12.0" fill="#1c1c1c" textLength="18.95" lengthAdjust="spacingAndGlyphs" stroke="#fff" stroke-width="0.12" paint-order="fill stroke">0.0</text>
<text transform="translate(42.30,593.80) rotate(-90)" x="0" y="0" font-family='"Liberation Sans", sans-serif' font-size="12.0" fill="#1c1c1c" textLength="10.30" lengthAdjust="spacingAndGlyphs" stroke="#fff" stroke-width="0.12" paint-order="fill stroke">of</text>
<text transform="translate(42.30,576.80) rotate(-90)" x="0" y="0" font-family='"Liberation Sans", sans-serif' font-size="12.0" fill="#1c1c1c" textLength="31.40" lengthAdjust="spacingAndGlyphs" stroke="#fff" stroke-width="0.12" paint-order="fill stroke">events</text>
<text transform="translate(42.40,519.45) rotate(-90)" x="0" y="0" font-family='"Liberation Sans", sans-serif' font-size="12.0" fill="#1c1c1c" textLength="55.30" lengthAdjust="spacingAndGlyphs" stroke="#fff" stroke-width="0.12" paint-order="fill stroke">discharge</text>
<text x="71.31" y="687.35" font-family='"Liberation Sans", sans-serif' font-size="11.6" fill="#1c1c1c" textLength="36.75" lengthAdjust="spacingAndGlyphs" stroke="#fff" stroke-width="0.12" paint-order="fill stroke">81063</text>
<text x="121.02" y="687.35" font-family='"Liberation Sans", sans-serif' font-size="11.6" fill="#1c1c1c" textLength="37.00" lengthAdjust="spacingAndGlyphs" stroke="#fff" stroke-width="0.12" paint-order="fill stroke">81440</text>
<text x="170.98" y="687.35" font-family='"Liberation Sans", sans-serif' font-size="11.6" fill="#1c1c1c" textLength="37.00" lengthAdjust="spacingAndGlyphs" stroke="#fff" stroke-width="0.12" paint-order="fill stroke">81818</text>
<text x="220.94" y="687.35" font-family='"Liberation Sans", sans-serif' font-size="11.6" fill="#1c1c1c" textLength="37.00" lengthAdjust="spacingAndGlyphs" stroke="#fff" stroke-width="0.12" paint-order="fill stroke">82195</text>
<text x="270.89" y="687.35" font-family='"Liberation Sans", sans-serif' font-size="11.6" fill="#1c1c1c" textLength="36.75" lengthAdjust="spacingAndGlyphs" stroke="#fff" stroke-width="0.12" paint-order="fill stroke">82573</text>
<text x="320.84" y="687.35" font-family='"Liberation Sans", sans-serif' font-size="11.6" fill="#1c1c1c" textLength="36.75" lengthAdjust="spacingAndGlyphs" stroke="#fff" stroke-width="0.12" paint-order="fill stroke">82950</text>
<text x="370.55" y="687.35" font-family='"Liberation Sans", sans-serif' font-size="11.6" fill="#1c1c1c" textLength="37.25" lengthAdjust="spacingAndGlyphs" stroke="#fff" stroke-width="0.12" paint-order="fill stroke">83327</text>
<text x="220.85" y="701.50" font-family='"Liberation Sans", sans-serif' font-size="12.0" fill="#1c1c1c" textLength="56.45" lengthAdjust="spacingAndGlyphs" stroke="#fff" stroke-width="0.12" paint-order="fill stroke">Discharge</text>
<text x="276.60" y="460.50" font-family='"Liberation Sans", sans-serif' font-size="12.0" fill="#0c0c0c" textLength="5.05" lengthAdjust="spacingAndGlyphs" stroke="#fff" stroke-width="0.12" paint-order="fill stroke">(</text>
<text x="288.10" y="460.50" font-family='"Liberation Sans", sans-serif' font-size="12.0" fill="#0c0c0c" textLength="22.55" lengthAdjust="spacingAndGlyphs" stroke="#fff" stroke-width="0.12" paint-order="fill stroke">738</text>
<text x="315.85" y="460.50" font-family='"Liberation Sans", sans-serif' font-size="12.0" fill="#0c0c0c" textLength="5.30" lengthAdjust="spacingAndGlyphs" stroke="#fff" stroke-width="0.12" paint-order="fill stroke">)</text>
<text x="255.35" y="484.00" font-family='"Liberation Sans", sans-serif' font-size="12.0" fill="#f00" textLength="55.05" lengthAdjust="spacingAndGlyphs" stroke="#fff" stroke-width="0.18" paint-order="fill stroke">Ni/Fe/Cr</text>
<text x="315.10" y="484.00" font-family='"Liberation Sans", sans-serif' font-size="12.0" fill="#f00" textLength="5.55" lengthAdjust="spacingAndGlyphs" stroke="#fff" stroke-width="0.18" paint-order="fill stroke">(</text>
<text x="326.85" y="484.00" font-family='"Liberation Sans", sans-serif' font-size="12.0" fill="#f00" textLength="21.55" lengthAdjust="spacingAndGlyphs" stroke="#fff" stroke-width="0.18" paint-order="fill stroke">284</text>
<text x="355.10" y="484.00" font-family='"Liberation Sans", sans-serif' font-size="12.0" fill="#f00" textLength="5.30" lengthAdjust="spacingAndGlyphs" stroke="#fff" stroke-width="0.18" paint-order="fill stroke">)</text>
<text x="256.10" y="507.00" font-family='"Liberation Sans", sans-serif' font-size="12.0" fill="#868686" textLength="37.05" lengthAdjust="spacingAndGlyphs" stroke="#fff" stroke-width="0.12" paint-order="fill stroke">Others</text>
<text x="298.85" y="507.00" font-family='"Liberation Sans", sans-serif' font-size="12.0" fill="#868686" textLength="5.55" lengthAdjust="spacingAndGlyphs" stroke="#fff" stroke-width="0.12" paint-order="fill stroke">(</text>
<text x="311.35" y="507.00" font-family='"Liberation Sans", sans-serif' font-size="12.0" fill="#868686" textLength="21.30" lengthAdjust="spacingAndGlyphs" stroke="#fff" stroke-width="0.12" paint-order="fill stroke">195</text>
<text x="338.85" y="507.00" font-family='"Liberation Sans", sans-serif' font-size="12.0" fill="#868686" textLength="5.30" lengthAdjust="spacingAndGlyphs" stroke="#fff" stroke-width="0.12" paint-order="fill stroke">)</text>
<text x="2.20" y="725.00" font-family='"Liberation Serif", serif' font-size="15.6" fill="#141414" textLength="20.00" lengthAdjust="spacingAndGlyphs" stroke="#fff" stroke-width="0.00" paint-order="fill stroke">(b)</text>
<text x="29.95" y="724.75" font-family='"Liberation Serif", serif' font-size="15.6" fill="#141414" textLength="54.70" lengthAdjust="spacingAndGlyphs" stroke="#fff" stroke-width="0.00" paint-order="fill stroke">Number</text>
<text x="92.55" y="724.75" font-family='"Liberation Serif", serif' font-size="15.6" fill="#141414" textLength="11.85" lengthAdjust="spacingAndGlyphs" stroke="#fff" stroke-width="0.00" paint-order="fill stroke">of</text>
<text x="110.35" y="724.75" font-family='"Liberation Serif", serif' font-size="15.6" fill="#141414" textLength="45.45" lengthAdjust="spacingAndGlyphs" stroke="#fff" stroke-width="0.00" paint-order="fill stroke">events</text>
<text x="165.35" y="725.00" font-family='"Liberation Serif", serif' font-size="15.6" fill="#141414" textLength="21.60" lengthAdjust="spacingAndGlyphs" stroke="#fff" stroke-width="0.00" paint-order="fill stroke">per</text>
<text x="194.20" y="725.00" font-family='"Liberation Serif", serif' font-size="15.6" fill="#141414" textLength="63.25" lengthAdjust="spacingAndGlyphs" stroke="#fff" stroke-width="0.00" paint-order="fill stroke">discharge</text>
<text x="264.85" y="725.00" font-family='"Liberation Serif", serif' font-size="15.6" fill="#141414" textLength="60.60" lengthAdjust="spacingAndGlyphs" stroke="#fff" stroke-width="0.00" paint-order="fill stroke">(element</text>
<text x="332.95" y="725.00" font-family='"Liberation Serif", serif' font-size="15.6" fill="#141414" textLength="64.90" lengthAdjust="spacingAndGlyphs" stroke="#fff" stroke-width="0.00" paint-order="fill stroke">resolved)</text>
<text x="403.35" y="725.00" font-family='"Liberation Serif", serif' font-size="15.6" fill="#141414" textLength="6.70" lengthAdjust="spacingAndGlyphs" stroke="#fff" stroke-width="0.00" paint-order="fill stroke">-</text>
<text x="414.60" y="724.75" font-family='"Liberation Serif", serif' font-size="15.6" fill="#141414" textLength="49.40" lengthAdjust="spacingAndGlyphs" stroke="#fff" stroke-width="0.00" paint-order="fill stroke">Details</text>
<line x1="34.90" y1="180.50" x2="44.50" y2="188.50" stroke="#2a2a2a" stroke-width="1.0" stroke-linecap="round"/>
<circle cx="42.8" cy="182.2" r="1.55" fill="none" stroke="#2a2a2a" stroke-width="0.9"/>
<circle cx="36.5" cy="187.6" r="1.55" fill="none" stroke="#2a2a2a" stroke-width="0.9"/>
<line x1="31.70" y1="601.40" x2="44.30" y2="603.30" stroke="#2a2a2a" stroke-width="0.9" stroke-linecap="round"/>
<line x1="31.70" y1="604.30" x2="44.30" y2="606.40" stroke="#2a2a2a" stroke-width="0.9" stroke-linecap="round"/>
<line x1="36.10" y1="600.80" x2="36.10" y2="607.10" stroke="#2a2a2a" stroke-width="0.9" stroke-linecap="round"/>
<line x1="39.90" y1="600.80" x2="39.90" y2="607.10" stroke="#2a2a2a" stroke-width="0.9" stroke-linecap="round"/>
<line x1="31.80" y1="525.90" x2="44.10" y2="532.50" stroke="#2a2a2a" stroke-width="0.9" stroke-linecap="round"/>
<line x1="286.80" y1="692.20" x2="284.10" y2="704.60" stroke="#2a2a2a" stroke-width="0.9" stroke-linecap="round"/>
<line x1="289.30" y1="692.20" x2="286.70" y2="704.60" stroke="#2a2a2a" stroke-width="0.9" stroke-linecap="round"/>
<line x1="283.70" y1="697.60" x2="289.60" y2="697.60" stroke="#2a2a2a" stroke-width="0.9" stroke-linecap="round"/>
<line x1="283.50" y1="700.40" x2="289.40" y2="700.40" stroke="#2a2a2a" stroke-width="0.9" stroke-linecap="round"/>
<polyline points="169.40,287.60 171.70,296.70 174.20,287.80 176.60,296.70 178.90,287.60" fill="none" stroke="#2a2a2a" stroke-width="1.0" stroke-linejoin="round" stroke-linecap="round"/>
<polyline points="257.00,452.40 258.90,460.10 260.65,452.60 262.40,460.10 264.30,452.40" fill="none" stroke="#161616" stroke-width="0.95" stroke-linejoin="round" stroke-linecap="round"/>
<polyline points="169.80,93.10 178.70,90.50 170.00,87.90 178.70,85.30 169.80,82.70" fill="none" stroke="#f00" stroke-width="0.95" stroke-linejoin="round" stroke-linecap="round"/>
</svg>
</body></html>
